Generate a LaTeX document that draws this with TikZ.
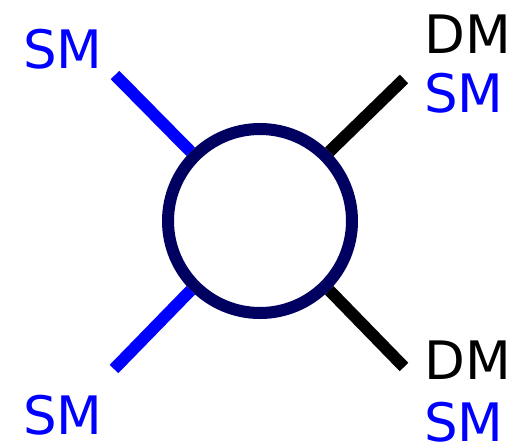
\documentclass[tikz,border=0pt]{standalone}
\usepackage{fontspec}
\setmainfont{DejaVu Sans}
\definecolor{navy}{RGB}{0,0,96}
\definecolor{smblue}{RGB}{0,0,255}
\begin{document}
\begin{tikzpicture}[x=1pt,y=-1pt,
  lbl/.style={anchor=base west,inner sep=0pt,text depth=0pt,font=\fontsize{53}{60}\selectfont},
  leg/.style={line width=12pt},
  blob/.style={circle,draw=navy,line width=12pt,minimum size=184pt,inner sep=0pt}]
\useasboundingbox (0,0) rectangle (511,445);
\node[blob] (c) at (260,221) {};
\coordinate (ul) at (115,75);
\coordinate (ll) at (114,369);
\coordinate (ur) at (404,79);
\coordinate (lr) at (404,367);
\draw[leg,smblue] (ul) -- (c.135);
\draw[leg,smblue] (ll) -- (c.225);
\draw[leg,black] (ur) -- (c.45);
\draw[leg,black] (lr) -- (c.-45);
\node[lbl,text=smblue] (t1) at (23,68) {SM};
\node[lbl,text=smblue] (t2) at (23,434) {SM};
\node[lbl,text=black] (t3) at (424,53) {DM};
\node[lbl,text=smblue] (t4) at (424,112) {SM};
\node[lbl,text=black] (t5) at (424,379) {DM};
\node[lbl,text=smblue] (t6) at (424,441) {SM};
\end{tikzpicture}
\end{document}
